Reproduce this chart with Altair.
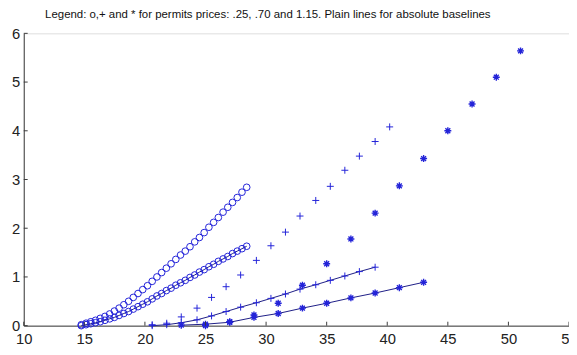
import altair as alt
import pandas as pd

# ---- data ----
circ_x = [14.75, 15.14, 15.53, 15.92, 16.31, 16.70, 17.09, 17.48, 17.87, 18.26,
          18.65, 19.04, 19.43, 19.82, 20.21, 20.60, 20.99, 21.38, 21.77, 22.16,
          22.55, 22.94, 23.33, 23.72, 24.11, 24.50, 24.89, 25.28, 25.67, 26.06,
          26.45, 26.84, 27.23, 27.62, 28.01, 28.40]
circ_upper_y = [0.02, 0.05, 0.08, 0.11, 0.15, 0.19, 0.24, 0.30, 0.36, 0.43,
                0.50, 0.58, 0.66, 0.74, 0.82, 0.91, 1.00, 1.09, 1.18, 1.27,
                1.36, 1.45, 1.53, 1.62, 1.72, 1.81, 1.91, 2.02, 2.12, 2.22,
                2.33, 2.43, 2.53, 2.63, 2.74, 2.84]
circ_lower_y = [0.00, 0.02, 0.04, 0.06, 0.08, 0.11, 0.14, 0.17, 0.21, 0.25,
                0.29, 0.34, 0.39, 0.44, 0.49, 0.55, 0.61, 0.66, 0.72, 0.77,
                0.83, 0.88, 0.93, 0.99, 1.04, 1.10, 1.15, 1.21, 1.26, 1.32,
                1.37, 1.42, 1.48, 1.53, 1.58, 1.63]

plus_upper_x = [20.6, 21.8, 23.0, 24.3, 25.5, 26.7, 27.9, 29.2, 30.4, 31.6,
                32.8, 34.1, 35.3, 36.5, 37.7, 39.0, 40.2]
plus_upper_y = [0.02, 0.05, 0.18, 0.36, 0.58, 0.80, 1.04, 1.34, 1.64, 1.92,
                2.25, 2.57, 2.86, 3.19, 3.48, 3.78, 4.08]
plus_lower_x = [20.6, 21.8, 23.0, 24.3, 25.5, 26.7, 27.9, 29.2, 30.4, 31.6,
                32.8, 34.1, 35.3, 36.5, 37.7, 39.0]
plus_lower_y = [0.00, 0.02, 0.06, 0.12, 0.20, 0.29, 0.38, 0.47, 0.56, 0.65,
                0.75, 0.84, 0.93, 1.02, 1.11, 1.20]

star_upper_x = [25, 27, 29, 31, 33, 35, 37, 39, 41, 43, 45, 47, 49, 51]
star_upper_y = [0.00, 0.08, 0.22, 0.46, 0.83, 1.27, 1.78, 2.31, 2.87, 3.43,
                4.00, 4.55, 5.10, 5.64]
star_lower_x = [23, 25, 27, 29, 31, 33, 35, 37, 39, 41, 43]
star_lower_y = [0.01, 0.03, 0.07, 0.17, 0.25, 0.36, 0.46, 0.57, 0.67, 0.78, 0.89]

x_ticks = [10, 15, 20, 25, 30, 35, 40, 45, 50, 55]
y_ticks = [0, 1, 2, 3, 4, 5, 6]

title_text = "Legend: o,+ and * for permits prices: .25, .70 and 1.15. Plain lines for absolute baselines"

# ---- styling ----
MARK = "#2323d8"
LINE = "#1c1c85"
AXIS = "#3a3a3a"
FONT = "Liberation Sans, Arial"
W, H = 554, 297

PLUS = "M-1,0H1M0,-1V1"
STAR = "M-1,0H1M0,-1V1M-0.7,-0.7L0.7,0.7M-0.7,0.7L0.7,-0.7"

xs = alt.Scale(domain=[10, 55], nice=False, zero=False)
ys = alt.Scale(domain=[0, 6], nice=False)

xax = alt.Axis(values=x_ticks, ticks=False, labelPadding=6, grid=False,
               domainColor=AXIS, labelColor="#222", labelFont=FONT,
               labelFontSize=15, title=None, labelFlush=False)
yax = alt.Axis(values=y_ticks, ticks=False, labelPadding=4, grid=False,
               domainColor=AXIS, labelColor="#222", labelFont=FONT,
               labelFontSize=15, title=None)

X = alt.X("x:Q", scale=xs, axis=xax)
Y = alt.Y("y:Q", scale=ys, axis=yax)


def df(x, y):
    return pd.DataFrame({"x": x, "y": y})


def pts(x, y, shape, size, sw):
    return alt.Chart(df(x, y)).mark_point(
        shape=shape, filled=False, size=size, strokeWidth=sw, color=MARK, opacity=1
    ).encode(x=X, y=Y)


def line(x, y):
    return alt.Chart(df(x, y)).mark_line(color=LINE, strokeWidth=1).encode(x=X, y=Y)


layers = [
    pts(circ_x, circ_upper_y, "circle", 46, 1),
    line(circ_x, circ_lower_y),
    pts(circ_x, circ_lower_y, "circle", 46, 1),
    pts(plus_upper_x, plus_upper_y, PLUS, 50, 1),
    line(plus_lower_x, plus_lower_y),
    pts(plus_lower_x, plus_lower_y, PLUS, 50, 1),
    pts(star_upper_x, star_upper_y, STAR, 50, 1.4),
    line(star_lower_x, star_lower_y),
    pts(star_lower_x, star_lower_y, STAR, 50, 1.4),
    # inward tick marks
    alt.Chart(pd.DataFrame({"x": x_ticks})).mark_rule(color=AXIS, strokeWidth=1).encode(
        x=X, y=alt.value(H), y2=alt.value(H - 4)),
    alt.Chart(pd.DataFrame({"y": y_ticks})).mark_rule(color=AXIS, strokeWidth=1).encode(
        y=Y, x=alt.value(0), x2=alt.value(4)),
]

chart = alt.layer(*layers).properties(
    width=W, height=H,
    autosize=alt.AutoSizeParams(type="none"),
    padding={"left": 16, "top": 23, "right": 0, "bottom": 24},
    title=alt.TitleParams(title_text, font=FONT, fontSize=11.6, fontWeight="normal",
                          color="#111", anchor="middle", frame="group", dx=-29, offset=6),
).configure_view(stroke=None).configure(background="white")

chart.save("out.html", embed_options={"renderer": "svg", "actions": False})
